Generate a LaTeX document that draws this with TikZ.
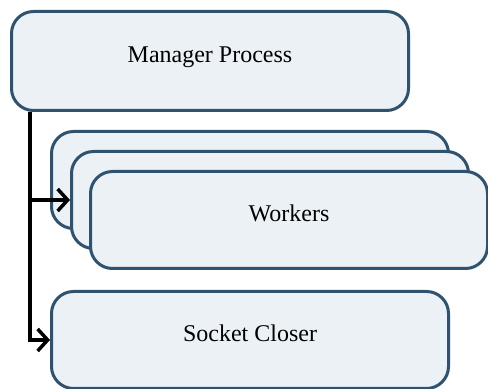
\documentclass[tikz,border=0pt]{standalone}
\usepackage{fontspec}
\setmainfont{Liberation Serif}
\usetikzlibrary{arrows.meta,calc}

\begin{document}
\begin{tikzpicture}[x=0.5pt,y=-0.5pt,
  procbox/.style={draw=boxline,fill=boxfill,line width=1.5pt,rounded corners=11pt,
    minimum width=198.5pt,minimum height=48.5pt,
    font=\fontsize{12}{14}\selectfont,text height=8pt,text depth=6.5pt},
  flow/.style={line width=1.75pt,-{Straight Barb[length=5pt,width=11pt]}}]
\definecolor{boxline}{RGB}{47,82,110}
\definecolor{boxfill}{RGB}{236,241,246}
\useasboundingbox (0,0) rectangle (488,389);
\node[procbox,minimum height=49.5pt] (mgr) at (210,61) {Manager Process};
\node[procbox] (wk1) at (250,180) {};
\node[procbox] (wk2) at (270,200) {};
\node[procbox] (wk3) at (289,220) {Workers};
\node[procbox] (sock) at (250,340) {Socket Closer};
\coordinate (trunk) at ($(mgr.south west)+(20,0)$);
\draw[flow] (trunk) |- (wk2.west);
\draw[flow] (trunk) |- (sock.west);
\end{tikzpicture}
\end{document}
